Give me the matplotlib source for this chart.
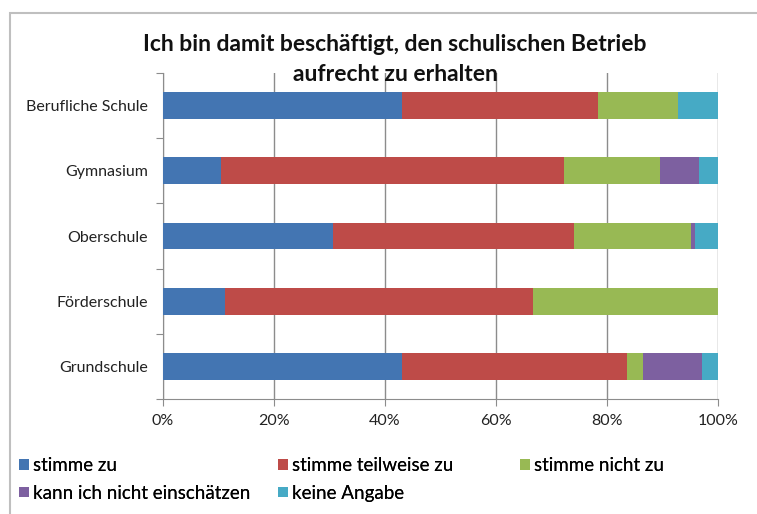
import numpy as np
import matplotlib
matplotlib.use('Agg')
import matplotlib.pyplot as plt
from matplotlib.patches import Rectangle

plt.rcParams['font.family'] = ['Lato', 'DejaVu Sans']

# categories, bottom to top
schools = ['Grundschule', 'Förderschule', 'Oberschule', 'Gymnasium', 'Berufliche Schule']
answers = ['stimme zu', 'stimme teilweise zu', 'stimme nicht zu',
           'kann ich nicht einschätzen', 'keine Angabe']

# shares in percent, one list per answer (same order as schools)
stimme_zu = [43.0, 11.1, 30.7, 10.4, 43.0]
teilweise = [40.6, 55.6, 43.4, 61.9, 35.4]
nicht_zu = [2.8, 33.3, 21.1, 17.3, 14.4]
kann_nicht = [10.8, 0.0, 0.7, 7.0, 0.0]
keine_angabe = [2.8, 0.0, 4.1, 3.4, 7.2]

colors = ['#4375B2', '#BE4B48', '#98B954', '#7D60A0', '#46AAC5']

series = [stimme_zu, teilweise, nicht_zu, kann_nicht, keine_angabe]

fig = plt.figure(figsize=(7.57, 5.14), dpi=100)
ax = fig.add_axes([163 / 757, 115 / 514, 555 / 757, 326 / 514])

y = np.arange(len(schools))
left = np.zeros(len(schools))
handles = []
for vals, name, col in zip(series, answers, colors):
    h = ax.barh(y, vals, left=left, height=0.41, color=col, label=name, zorder=3)
    handles.append(h)
    left += np.array(vals)

ax.set_xlim(0, 100)
ax.set_ylim(-0.5, len(schools) - 0.5)
ax.set_xticks(np.arange(0, 101, 20))
ax.set_xticklabels([f'{v}%' for v in range(0, 101, 20)])
ax.grid(axis='x', color='#8C8C8C', linewidth=1, zorder=0)

# category labels at centres, tick marks at the boundaries
ax.set_yticks(np.arange(-0.5, len(schools), 1))
ax.set_yticklabels([])
ax.set_yticks(y, minor=True)
ax.set_yticklabels(schools, minor=True)
ax.tick_params(axis='y', which='minor', length=0, pad=11, labelsize=11.5, colors='#222222')
ax.tick_params(axis='y', which='major', length=5, color='#8C8C8C')
ax.tick_params(axis='x', length=5, color='#8C8C8C', labelsize=11.5, labelcolor='#222222', pad=6)

for side in ['top', 'right']:
    ax.spines[side].set_visible(False)
for side in ['left', 'bottom']:
    ax.spines[side].set_color('#8C8C8C')

fig.text(0.522, 1 - 34 / 514, 'Ich bin damit beschäftigt, den schulischen Betrieb\naufrecht zu erhalten',
         ha='center', va='top', fontsize=16.5, fontweight='bold', linespacing=1.55, color='#111111')

# legend: three columns, filled row by row
legend_cols = [[0, 3], [1, 4], [2]]
col_x = [10, 269, 511]
for idx, x0 in zip(legend_cols, col_x):
    leg = fig.legend([handles[i] for i in idx], [answers[i] for i in idx],
                     loc='upper left', bbox_to_anchor=(x0 / 757, 1 - 448 / 514),
                     frameon=False, fontsize=13.5, handlelength=0.5, handleheight=0.5,
                     handletextpad=0.25, labelspacing=0.55, borderpad=0)
    fig.add_artist(leg)

# chart frame
fig.patches.append(Rectangle((10 / 757, -0.1), 1.2, 1 - 13 / 514 + 0.1, transform=fig.transFigure,
                             fill=False, edgecolor='#BFBFBF', linewidth=1.5))

fig.savefig('out.png', dpi=100)
